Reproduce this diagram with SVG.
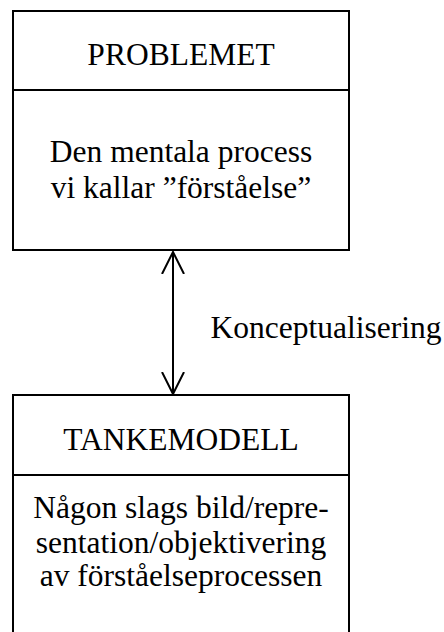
<svg xmlns="http://www.w3.org/2000/svg" width="444" height="632" viewBox="0 0 444 632">
<style>
.box{fill:#fff;stroke:#000;stroke-width:2}
.line{stroke:#000;stroke-width:2;fill:none}
text{font-family:"Liberation Serif","Times New Roman",serif;font-size:31.5px;fill:#000;text-anchor:middle}
</style>
<defs>
<marker id="open" viewBox="0 0 24 24" refX="22" refY="12" markerWidth="24" markerHeight="24" markerUnits="userSpaceOnUse" orient="auto-start-reverse">
<path d="M0,1 L22,12 L0,23" fill="none" stroke="#000" stroke-width="2"/>
</marker>
</defs>
<rect width="444" height="632" fill="#fff"/>
<g id="problemet">
<rect class="box" x="13" y="11" width="336" height="239"/>
<line class="line" x1="13" y1="90" x2="349" y2="90"/>
<text x="181" y="65">PROBLEMET</text>
<text x="181" y="162">Den mentala process</text>
<text x="181" y="198">vi kallar ”förståelse”</text>
</g>
<g id="tankemodell">
<rect class="box" x="13" y="395" width="336" height="250"/>
<line class="line" x1="13" y1="475" x2="349" y2="475"/>
<text x="181" y="450">TANKEMODELL</text>
<text x="181" y="518">Någon slags bild/repre-</text>
<text x="181" y="553">sentation/objektivering</text>
<text x="181" y="586">av förståelseprocessen</text>
</g>
<g id="connectors">
<line class="line" x1="173" y1="252" x2="173" y2="394" marker-start="url(#open)" marker-end="url(#open)"/>
<text x="326" y="338">Konceptualisering</text>
</g>
</svg>
